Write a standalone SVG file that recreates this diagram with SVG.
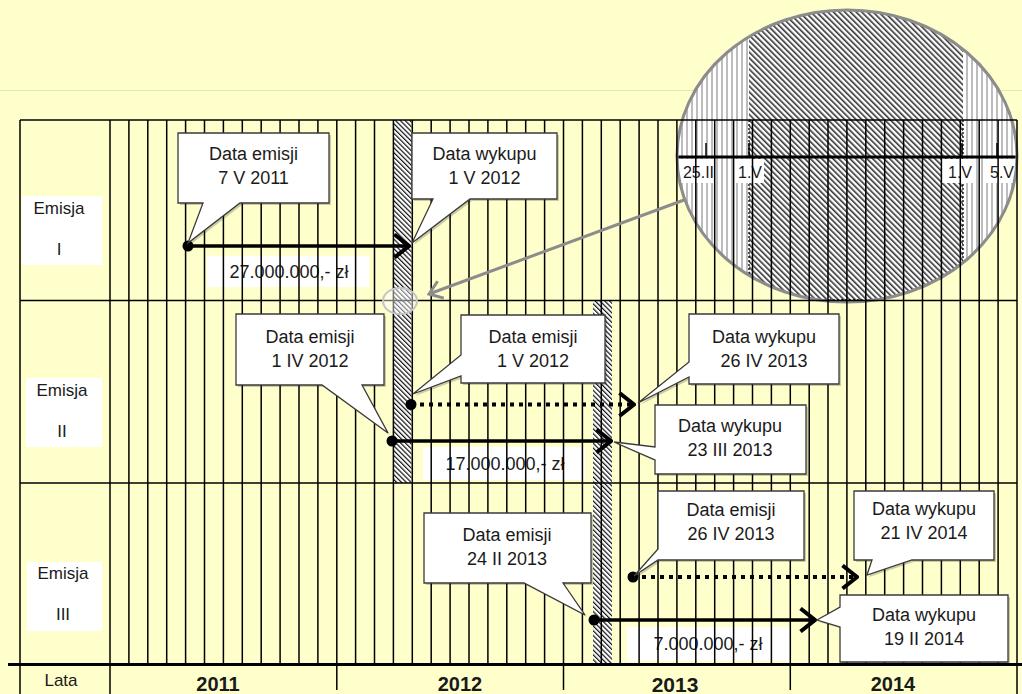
<svg xmlns="http://www.w3.org/2000/svg" width="1022" height="694" viewBox="0 0 1022 694">
<defs>
<style>
.t{font-family:"Liberation Sans",Arial,sans-serif;fill:#1a1a1a;text-anchor:middle}
.c{font-size:18px}
.lb{font-size:17px}
.mg{font-size:16px}
.yr{font-size:20px;font-weight:bold}
.g{stroke:#000;stroke-width:1.5;fill:none}
.co{fill:#fff;stroke:#3a3a3a;stroke-width:1.3}
.sh{fill:#000;opacity:.2}
.ar{stroke:#000;stroke-width:3.5;fill:none}
.dt{stroke:#000;stroke-width:4;fill:none;stroke-dasharray:4 5}
.wb{fill:#fff}
.dot{fill:#000}
</style>
<pattern id="hatch" patternUnits="userSpaceOnUse" width="3.4" height="3.4" patternTransform="rotate(-45)">
<rect width="3.4" height="3.4" fill="#fff"/>
<rect width="1.2" height="3.4" fill="#111"/>
</pattern>
<pattern id="mhatch" patternUnits="userSpaceOnUse" width="4" height="4" patternTransform="rotate(-45)">
<rect width="4" height="4" fill="#fff"/>
<rect width="1.6" height="4" fill="#333"/>
</pattern>
<pattern id="stripes" patternUnits="userSpaceOnUse" width="5" height="10">
<rect width="5" height="10" fill="#fff"/>
<rect x="1" width="2" height="10" fill="#bdbdbd"/>
</pattern>
<clipPath id="mag"><ellipse cx="847" cy="156" rx="170" ry="146"/></clipPath>
<marker id="ah" markerUnits="userSpaceOnUse" viewBox="0 0 18 26" refX="16" refY="13" markerWidth="18" markerHeight="26" orient="auto">
<path d="M1.5,1.5 L16,13 L1.5,24.5" fill="none" stroke="#000" stroke-width="4"/>
</marker>
<marker id="gh" markerUnits="userSpaceOnUse" viewBox="0 0 16 22" refX="14" refY="11" markerWidth="16" markerHeight="22" orient="auto">
<path d="M1.5,2 L14,11 L1.5,20" fill="none" stroke="#8c8c8c" stroke-width="3"/>
</marker>
</defs>

<rect width="1022" height="694" fill="#FFFFCC"/>
<path d="M0 90.5H1022" stroke="#e2e8b8" stroke-width="1"/>

<g id="magnifier">
<g clip-path="url(#mag)">
<rect x="670" y="0" width="352" height="310" fill="url(#stripes)"/>
<rect x="749" y="0" width="214" height="300" fill="url(#mhatch)"/>
<path d="M749 120V300H963V120" fill="none" stroke="#000" stroke-width="1.3" stroke-dasharray="2 2"/>
<path d="M670 157H1022" stroke="#000" stroke-width="3"/>
<path d="M706 143V157M749 143V157M962 143V157M997 143V157" stroke="#000" stroke-width="1.5"/>
<rect class="wb" x="681" y="159" width="35" height="24"/>
<rect class="wb" x="736" y="159" width="28" height="24"/>
<rect class="wb" x="942" y="159" width="34" height="24"/>
<rect class="wb" x="984" y="159" width="33" height="24"/>
<text class="t mg" x="698.5" y="178">25.II</text>
<text class="t mg" x="750" y="178">1.V</text>
<text class="t mg" x="960" y="178">1.V</text>
<text class="t mg" x="1002" y="178">5.V</text>
</g>
<ellipse cx="847" cy="156" rx="170" ry="146" fill="none" stroke="#8c8c8c" stroke-width="3"/>
</g>

<g id="bands">
<rect x="393" y="120" width="18.5" height="363" fill="url(#hatch)"/>
<rect x="593" y="301" width="19" height="362" fill="url(#hatch)"/>
</g>

<g id="label-I">
<rect class="wb" x="22" y="196" width="80" height="69"/>
<text class="t lb" x="59" y="214">Emisja</text>
<text class="t lb" x="59" y="255">I</text>
</g>
<g id="label-II">
<rect class="wb" x="26" y="378" width="76" height="69"/>
<text class="t lb" x="62" y="396">Emisja</text>
<text class="t lb" x="62" y="437">II</text>
</g>
<g id="label-III">
<rect class="wb" x="27" y="562" width="75" height="69"/>
<text class="t lb" x="63" y="579">Emisja</text>
<text class="t lb" x="63" y="620">III</text>
</g>

<g id="amount-I">
<rect class="wb" x="207" y="256" width="162" height="31"/>
<text class="t c" x="289" y="278">27.000.000,- zł</text>
</g>
<g id="amount-II">
<rect class="wb" x="423" y="447" width="162" height="33"/>
<text class="t c" x="505" y="470">17.000.000,- zł</text>
</g>
<g id="amount-III">
<rect class="wb" x="627" y="627" width="163" height="34"/>
<text class="t c" x="708" y="650">7.000.000,- zł</text>
</g>

<g id="grid">
<path class="g" d="M128.9 120V663M147.8 120V663M166.7 120V663M185.6 120V663M204.5 120V663M223.4 120V663M242.3 120V663M261.2 120V663M280.1 120V663M299 120V663M317.9 120V663M336.8 120V663M355.6 120V663M374.5 120V663M393.4 120V663M412.3 120V663M431.2 120V663M450.1 120V663M469 120V663M487.9 120V663M506.8 120V663M525.7 120V663M544.6 120V663M563.5 120V663M582.4 120V663M601.3 120V663M620.2 120V663M639.1 120V663M658 120V663M676.9 120V663M695.8 120V663M714.7 120V663M733.6 120V663M752.5 120V663M771.4 120V663M790.3 120V663M809.2 120V663M828 120V663M846.9 120V663M865.8 120V663M884.7 120V663M903.6 120V663M922.5 120V663M941.4 120V663M960.3 120V663M979.2 120V663M998.1 120V663"/>
<path class="g" d="M20 120H1017M20 300.5H1017M20 483H1017M20 120V694M110 120V694M1017 120V694M336.8 664V690M563.5 664V690M790.3 664V690"/>
<path d="M8 664.5H1022" stroke="#000" stroke-width="3"/>
</g>

<g id="pointer">
<ellipse cx="400" cy="301" rx="17" ry="13" fill="#fff" fill-opacity="0.45" stroke="#c4c4c4" stroke-width="2"/>
<path d="M684 200L429 294" stroke="#8c8c8c" stroke-width="3" fill="none" marker-end="url(#gh)"/>
</g>

<g id="connectors">
<path class="ar" d="M188 246H409" marker-end="url(#ah)"/>
<circle class="dot" cx="188" cy="246" r="5.5"/>
<path class="ar" d="M392 441H611" marker-end="url(#ah)"/>
<circle class="dot" cx="392" cy="441" r="5.5"/>
<path class="dt" d="M411 404.5H634" marker-end="url(#ah)"/>
<circle class="dot" cx="411" cy="404.5" r="5.5"/>
<path class="ar" d="M594 620H815" marker-end="url(#ah)"/>
<circle class="dot" cx="594" cy="620" r="5.5"/>
<path class="dt" d="M633 577H857" marker-end="url(#ah)"/>
<circle class="dot" cx="633" cy="577" r="5.5"/>
</g>

<g id="callout-emisja-I">
<path class="sh" transform="translate(2,2)" d="M178,133H329V203H240L188,243L203,203H178Z"/>
<path class="co" d="M178,133H329V203H240L188,243L203,203H178Z"/>
<text class="t c" x="253.5" y="160">Data emisji</text>
<text class="t c" x="253.5" y="184">7 V 2011</text>
</g>
<g id="callout-wykup-I">
<path class="sh" transform="translate(2,2)" d="M412,133H557V199H470L412,243L433,199H412Z"/>
<path class="co" d="M412,133H557V199H470L412,243L433,199H412Z"/>
<text class="t c" x="484.5" y="160">Data wykupu</text>
<text class="t c" x="484.5" y="184">1 V 2012</text>
</g>
<g id="callout-emisja-IIa">
<path class="sh" transform="translate(2,2)" d="M236,314H384V385H362L388,433L322,385H236Z"/>
<path class="co" d="M236,314H384V385H362L388,433L322,385H236Z"/>
<text class="t c" x="310" y="343">Data emisji</text>
<text class="t c" x="310" y="367">1 IV 2012</text>
</g>
<g id="callout-emisja-IIb">
<path class="sh" transform="translate(2,2)" d="M461,315H605V383H461V376L413,394L461,355Z"/>
<path class="co" d="M461,315H605V383H461V376L413,394L461,355Z"/>
<text class="t c" x="533" y="343">Data emisji</text>
<text class="t c" x="533" y="367">1 V 2012</text>
</g>
<g id="callout-wykup-IIb">
<path class="sh" transform="translate(2,2)" d="M689,314H839V384H689V377L638,403L689,362Z"/>
<path class="co" d="M689,314H839V384H689V377L638,403L689,362Z"/>
<text class="t c" x="764" y="343">Data wykupu</text>
<text class="t c" x="764" y="367">26 IV 2013</text>
</g>
<g id="callout-wykup-IIa">
<path class="sh" transform="translate(2,2)" d="M655,405H806V474H655V460L614,442L655,447Z"/>
<path class="co" d="M655,405H806V474H655V460L614,442L655,447Z"/>
<text class="t c" x="730" y="432">Data wykupu</text>
<text class="t c" x="730" y="456">23 III 2013</text>
</g>
<g id="callout-emisja-IIIb">
<path class="sh" transform="translate(2,2)" d="M658,491H804V560H658L634,576L658,549Z"/>
<path class="co" d="M658,491H804V560H658L634,576L658,549Z"/>
<text class="t c" x="731" y="516">Data emisji</text>
<text class="t c" x="731" y="540">26 IV 2013</text>
</g>
<g id="callout-wykup-IIIb">
<path class="sh" transform="translate(2,2)" d="M854,491H994V560H912L867,575L872,560H854Z"/>
<path class="co" d="M854,491H994V560H912L867,575L872,560H854Z"/>
<text class="t c" x="924" y="515">Data wykupu</text>
<text class="t c" x="924" y="539">21 IV 2014</text>
</g>
<g id="callout-wykup-IIIa">
<path class="sh" transform="translate(2,2)" d="M840,595H1008V662H840V627L817,620L840,607Z"/>
<path class="co" d="M840,595H1008V662H840V627L817,620L840,607Z"/>
<text class="t c" x="924" y="621">Data wykupu</text>
<text class="t c" x="924" y="645">19 II 2014</text>
</g>
<g id="callout-emisja-IIIa">
<path class="sh" transform="translate(2,2)" d="M424,513H591V583H563L585,615L524,583H424Z"/>
<path class="co" d="M424,513H591V583H563L585,615L524,583H424Z"/>
<text class="t c" x="507" y="541">Data emisji</text>
<text class="t c" x="507" y="565">24 II 2013</text>
</g>

<g id="axis-labels">
<text class="t lb" x="61" y="686">Lata</text>
<text class="t yr" x="218" y="691">2011</text>
<text class="t yr" x="460" y="691">2012</text>
<text class="t yr" x="675" y="692" style="font-size:21px">2013</text>
<text class="t yr" x="893" y="691">2014</text>
</g>
</svg>
